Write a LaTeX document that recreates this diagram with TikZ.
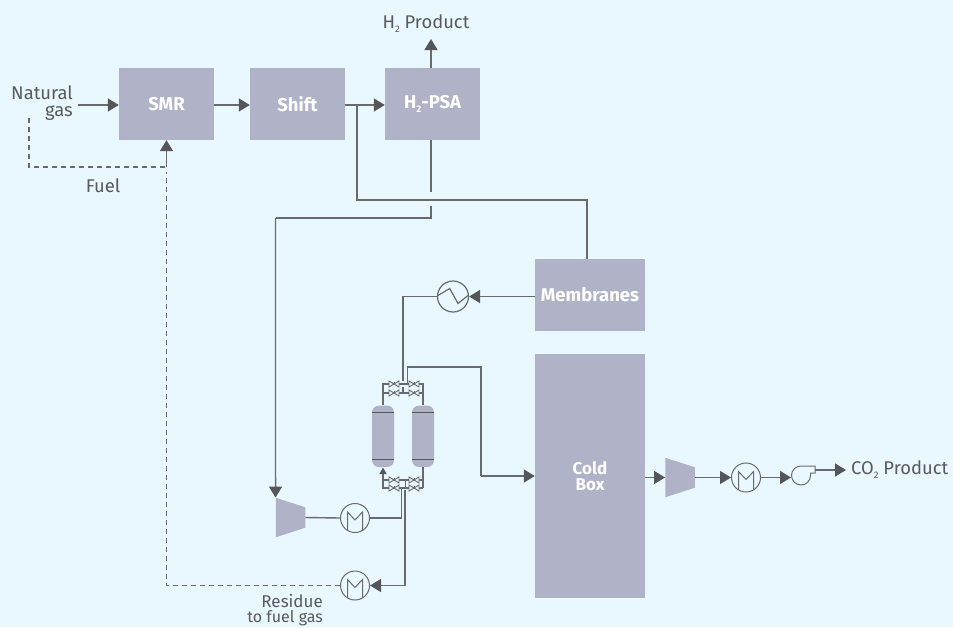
\documentclass[tikz,border=0pt]{standalone}
\usepackage{fontspec}
\setmainfont{Fira Sans}
\usetikzlibrary{arrows.meta, calc, backgrounds}

\definecolor{paleblue}{RGB}{233, 247, 254}
\definecolor{unitgray}{RGB}{176, 179, 200}
\definecolor{linegray}{RGB}{104, 107, 110}
\definecolor{tipgray}{RGB}{84, 86, 90}
\definecolor{textgray}{RGB}{88, 90, 92}

\newcommand{\subtwo}{\raisebox{-4pt}{\fontsize{9.5}{9.5}\selectfont 2}}

\tikzset{
    unitbox/.style={rectangle, fill=unitgray, text=white, minimum width=95pt, minimum height=72pt, inner sep=0pt, align=center, font=\fontsize{18.5}{16.5}\selectfont\bfseries},
    pipe/.style={draw=linegray, line width=1.4pt},
    feed/.style={pipe, -{Triangle[length=11pt,width=13pt,color=tipgray]}},
    tinyfeed/.style={pipe, -{Triangle[length=6.5pt,width=7pt,color=tipgray]}},
    fuelpipe/.style={pipe, dash pattern=on 5pt off 4pt},
    label/.style={text=textgray, inner sep=0pt, font=\fontsize{18.4}{17.5}\selectfont},
    % cooler with the M inside
    coolerm/.style={circle, draw=linegray, line width=1pt, minimum size=29pt, inner sep=0pt,
        path picture={\draw[linegray, line width=1pt] ($(path picture bounding box.center)+(-7.5,14)$) -- ++(0,-20) -- ++(7.5,8) -- ++(7.5,-8) -- ++(0,20);}},
    % exchanger with the zigzag inside
    coolerz/.style={circle, draw=linegray, line width=1.2pt, minimum size=31pt, inner sep=0pt,
        path picture={\draw[linegray, line width=1.2pt] ($(path picture bounding box.center)+(-15,-1)$) -- ++(11.7,-7) -- ++(8.3,15) -- ++(10,-8);}},
    compressor/.style={rectangle, minimum width=29.5pt, minimum height=39.5pt, inner sep=0pt,
        path picture={\fill[unitgray] (path picture bounding box.north west) -- (path picture bounding box.south west) -- ($(path picture bounding box.south east)+(0,-9.5)$) -- ($(path picture bounding box.north east)+(0,9.5)$) -- cycle;}},
    vessel/.style={rectangle, fill=unitgray, rounded corners=7pt, minimum width=22pt, minimum height=61.5pt, inner sep=0pt,
        path picture={\draw[tipgray, line width=1.2pt] ($(path picture bounding box.center)+(-12,-24)$) -- ++(24,0);
            \draw[tipgray, line width=1.2pt] ($(path picture bounding box.center)+(-12,23)$) -- ++(24,0);}},
    bowtie/.style={draw=linegray, fill=paleblue, line width=0.9pt},
}

\begin{document}
\begin{tikzpicture}[x=1pt, y=-1pt]

    % background
    \fill[paleblue] (0,0) rectangle (953,627);
    \useasboundingbox (0,0) rectangle (953,627);

    % main units
    \node[unitbox] (smr) at (166.5,104) {SMR};
    \node[unitbox] (shift) at (297.5,104) {Shift};
    \node[unitbox] (psa) at (432.5,104) {H\subtwo-PSA};
    \node[unitbox, minimum width=110pt] (memb) at (590,295) {Membranes};
    \node[unitbox, minimum width=110pt, minimum height=244pt, font=\fontsize{17}{16}\selectfont\bfseries] (cold) at (590,476) {Cold\\Box};

    % text labels
    \node[label, anchor=east, align=right] (natgas) at (73,103) {Natural\\gas};
    \node[label] (h2prod) at (426,24) {H\subtwo{} Product};
    \node[label] (fuel) at (103,186) {Fuel};
    \node[label, anchor=west] (co2prod) at (851,470) {CO\subtwo{} Product};
    \node[label, anchor=north east, align=right, font=\fontsize{17}{15.5}\selectfont] (residue) at (323,594) {Residue\\{\fontsize{16}{15.5}\selectfont to fuel gas}};

    % rotating equipment and exchangers
    \node[compressor] (compa) at (290.5,517.5) {};
    \node[compressor] (compb) at (680,477.5) {};
    \node[coolerm] (hxa) at (355,518) {};
    \node[coolerm] (hxb) at (355,585.5) {};
    \node[coolerm] (hxc) at (746,477.5) {};
    \node[coolerz] (hxz) at (453,296.5) {};

    % pump outline
    \coordinate (pumpin) at (791,475);
    \coordinate (pumpout) at (815,470);
    \draw[linegray, line width=1pt] (815,466) -- (801,466) arc (-90:-360:9.5) -- (810.5,473) -- (815,473) -- cycle;

    % adsorber vessels
    \node[vessel] (vesa) at (383,436.3) {};
    \node[vessel] (vesb) at (423,436.3) {};

    % junctions around the vessels
    \coordinate (topa) at (383,384);
    \coordinate (topb) at (423,384);
    \coordinate (topc) at (383,393);
    \coordinate (topd) at (423,393);
    \coordinate (lowa) at (383,480);
    \coordinate (lowb) at (423,480);
    \coordinate (lowc) at (383,488);
    \coordinate (lowd) at (423,488);

    % upper and lower headers
    \draw[pipe] (vesa.north) -- (topa) -- (topb) -- (vesb.north);
    \draw[pipe] (topc) -- (topd);
    \draw[pipe] (topa) -- (topc);
    \draw[pipe] (lowb) -- (lowa) -- (lowc) -- (lowd);
    \draw[pipe] (vesb.south) -- (lowd);
    \draw[pipe] (405.7,480) -- (405.7,488);
    \coordinate (tipa) at (383,467.5);
    \draw[tinyfeed] (lowa) -- (tipa);

    % valves
    \foreach \vx/\vy in {394/384, 414/384, 394/393, 414/393, 394/480, 414/480, 394/488, 414/488} {
        \draw[bowtie] (\vx-5,\vy-3) -- (\vx+5,\vy+3) -- (\vx+5,\vy-3) -- (\vx-5,\vy+3) -- cycle;
        \draw[linegray, line width=0.9pt] (\vx,\vy) -- (\vx,\vy-2);
    }

    % top row of the flowsheet
    \coordinate (natin) at (78,105);
    \draw[feed] (natin) -- (natin -| smr.west);
    \draw[feed] (smr.east |- natin) -- (natin -| shift.west);
    \draw[feed] (shift.east |- natin) -- (natin -| psa.west);
    \coordinate (h2tip) at (431,39);
    \draw[feed] (h2tip |- psa.north) -- (h2tip);

    % shift branch to the membranes
    \coordinate (shiftbr) at (357,105);
    \coordinate (membin) at (587,200);
    \draw[pipe] (shiftbr) |- (membin) -- (membin |- memb.north);

    % off gas from the PSA, broken where it crosses
    \coordinate (psaa) at (431,192);
    \coordinate (psab) at (431,206);
    \coordinate (psac) at (275.5,218);
    \draw[pipe] (psaa |- psa.south) -- (psaa);
    \draw[pipe] (psab) |- (psac);
    \draw[feed] (psac) -- (compa.north west);

    % membranes through the exchanger to the vessels
    \draw[feed] (memb.west |- hxz) -- (hxz.east);
    \coordinate (hxzup) at (403,296.5);
    \draw[pipe] (hxz.west) -- (hxzup) -- (403,381);
    \draw[pipe] (403,387) -- (403,393);

    % vessels to the cold box
    \coordinate (coldin) at (481,476);
    \draw[pipe] (407.7,384) -- (407.7,367) -| (coldin);
    \draw[feed] (coldin) -- (coldin -| cold.west);

    % compressor train at the bottom
    \draw[pipe] (compa.east) -- (hxa.west);
    \draw[pipe] (hxa.east) -- (401.7,518) -- (401.7,488);
    \draw[pipe] (405,490) -- (405,585.5);
    \draw[feed] (405,585.5) -- (hxb.east);

    % product train on the right
    \draw[feed] (cold.east |- compb) -- (compb.west);
    \draw[feed] (compb.east) -- (hxc.west);
    \draw[feed] (hxc.east) -- (pumpin |- hxc);
    \draw[feed] (pumpout) -- (846,470);

    % fuel lines
    \coordinate (fuelin) at (29,118);
    \coordinate (fueljn) at (166.5,167);
    \coordinate (fuelcn) at (166.5,585.5);
    \draw[fuelpipe] (fuelin) |- (fueljn);
    \draw[feed] (fueljn) -- (smr.south);
    \draw[fuelpipe] (hxb.west) -- (fuelcn) -- (166.5,172);

\end{tikzpicture}
\end{document}
